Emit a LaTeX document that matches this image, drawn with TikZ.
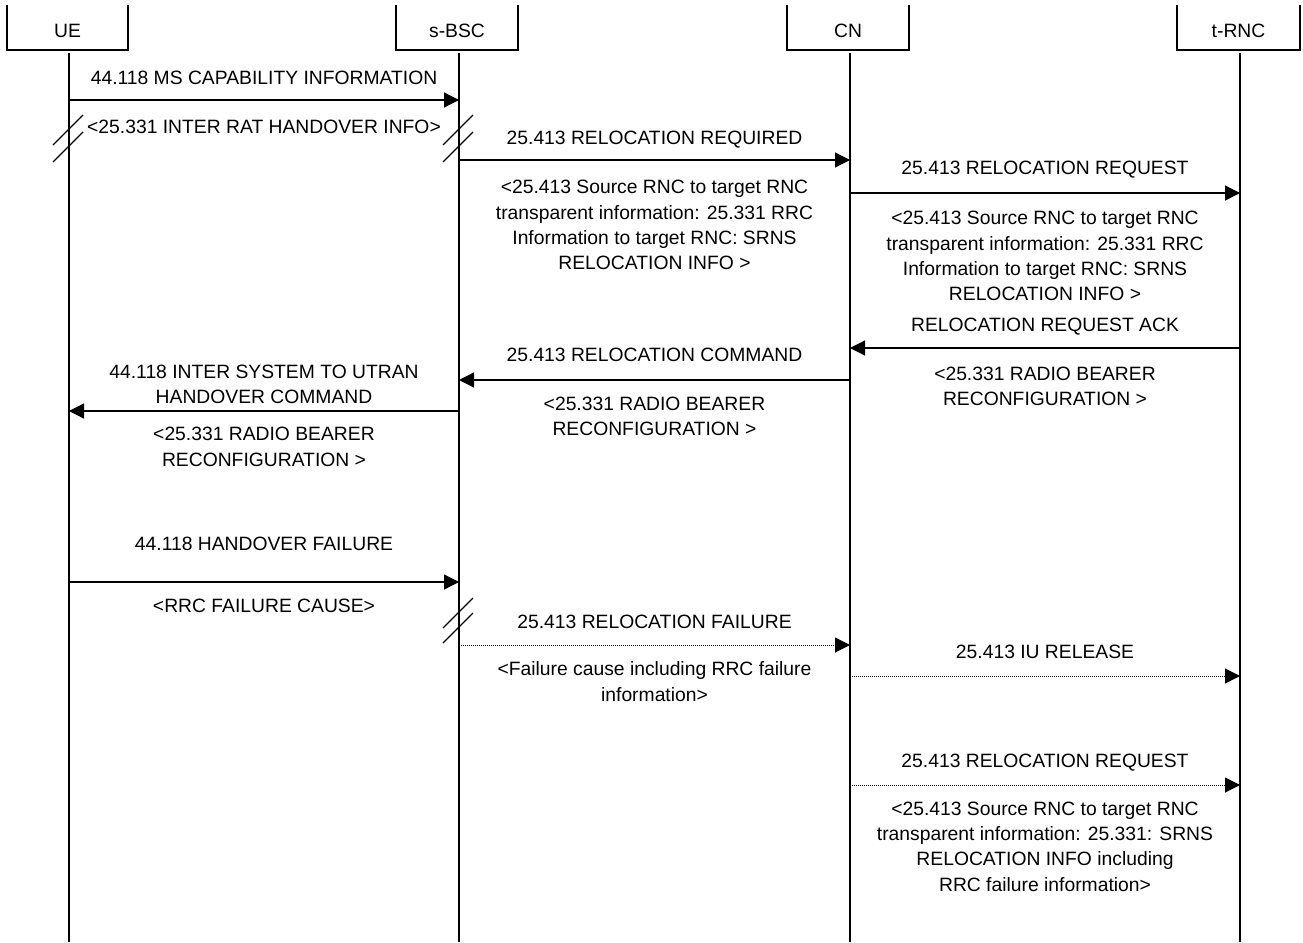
\documentclass[tikz,border=0pt]{standalone}
\usepackage{fontspec}
\setmainfont{Liberation Sans}
\usetikzlibrary{arrows.meta}
\begin{document}
\begin{tikzpicture}[x=1pt,y=-1pt,
  lifeline/.style={line width=1.3pt, black},
  boxline/.style={line width=1.2pt, black},
  msg/.style={line width=1.3pt, -{Triangle[length=15pt,width=15pt]}},
  dotmsg/.style={line width=1pt, dash pattern=on 1pt off 1pt, -{Triangle[length=15pt,width=15pt]}},
  lbl/.style={font=\fontsize{19.3}{25.4}\selectfont, align=center, anchor=north, inner sep=0pt},
  hdr/.style={font=\fontsize{19.3}{25.4}\selectfont, inner sep=0pt},
  brk/.style={line width=1.3pt}]
\useasboundingbox (0,0) rectangle (1303,942);

% header boxes
\draw[boxline] (7,5) -- (7,50) -- (128,50) -- (128,5);
\draw[boxline] (396,5) -- (396,50) -- (518,50) -- (518,5);
\draw[boxline] (787,5) -- (787,50) -- (909,50) -- (909,5);
\draw[boxline] (1177,5) -- (1177,50) -- (1300,50) -- (1300,5);
\node[hdr] (UE) at (67.5,31) {UE};
\node[hdr] (sBSC) at (457,31) {s-BSC};
\node[hdr] (CN) at (848,31) {CN};
\node[hdr] (tRNC) at (1238.5,31) {t-RNC};

% lifelines
\coordinate (ueT) at (69,53);   \coordinate (ueB) at (69,942);
\coordinate (bsT) at (459,53);  \coordinate (bsB) at (459,942);
\coordinate (cnT) at (850,53);  \coordinate (cnB) at (850,942);
\coordinate (rnT) at (1240,53); \coordinate (rnB) at (1240,942);
\draw[lifeline] (ueT) -- (ueB);
\draw[lifeline] (bsT) -- (bsB);
\draw[lifeline] (cnT) -- (cnB);
\draw[lifeline] (rnT) -- (rnB);

% message 1
\coordinate (m1a) at (69,100); \coordinate (m1b) at (459,100);
\draw[msg] (m1a) -- (m1b);
\node[lbl] (t1) at (264,70.5) {44.118 MS CAPABILITY INFORMATION};
\node[lbl] (t1b) at (264,119.5) {<25.331 INTER RAT HANDOVER INFO>};

% break marks
\draw[brk] (83,115) -- (53,145);
\draw[brk] (83,132) -- (53,162);
\draw[brk] (473,115) -- (443,145);
\draw[brk] (473,132) -- (443,162);

% message 2
\coordinate (m2a) at (459,160); \coordinate (m2b) at (850,160);
\draw[msg] (m2a) -- (m2b);
\node[lbl] (t2) at (654.5,130.5) {25.413 RELOCATION REQUIRED};
\node[lbl] (t2b) at (654.5,180) {<25.413 Source RNC to target RNC\\transparent information: 25.331 RRC\\Information to target RNC: SRNS\\RELOCATION INFO >};

% message 3
\coordinate (m3a) at (850,193); \coordinate (m3b) at (1240,193);
\draw[msg] (m3a) -- (m3b);
\node[lbl] (t3) at (1045,161) {25.413 RELOCATION REQUEST};
\node[lbl] (t3b) at (1045,211) {<25.413 Source RNC to target RNC\\transparent information: 25.331 RRC\\Information to target RNC: SRNS\\RELOCATION INFO >};

% message 4
\coordinate (m4a) at (1240,348); \coordinate (m4b) at (850,348);
\draw[msg] (m4a) -- (m4b);
\node[lbl] (t4) at (1045,318) {RELOCATION REQUEST ACK};
\node[lbl] (t4b) at (1045,366.5) {<25.331 RADIO BEARER\\RECONFIGURATION >};

% message 5
\coordinate (m5a) at (850,380); \coordinate (m5b) at (459,380);
\draw[msg] (m5a) -- (m5b);
\node[lbl] (t5) at (654.5,348) {25.413 RELOCATION COMMAND};
\node[lbl] (t5b) at (654.5,396.5) {<25.331 RADIO BEARER\\RECONFIGURATION >};

% message 6
\coordinate (m6a) at (459,411); \coordinate (m6b) at (69,411);
\draw[msg] (m6a) -- (m6b);
\node[lbl] (t6) at (264,364.5) {44.118 INTER SYSTEM TO UTRAN\\HANDOVER COMMAND};
\node[lbl] (t6b) at (264,427) {<25.331 RADIO BEARER\\RECONFIGURATION >};

% message 7
\coordinate (m7a) at (69,582); \coordinate (m7b) at (459,582);
\draw[msg] (m7a) -- (m7b);
\node[lbl] (t7) at (264,537) {44.118 HANDOVER FAILURE};
\node[lbl] (t7b) at (264,599) {<RRC FAILURE CAUSE>};

% break marks 2
\draw[brk] (473,598) -- (443,628);
\draw[brk] (473,613) -- (443,643);

% message 8
\coordinate (m8a) at (459,645); \coordinate (m8b) at (850,645);
\draw[dotmsg] (m8a) -- (m8b);
\node[lbl] (t8) at (654.5,614.5) {25.413 RELOCATION FAILURE};
\node[lbl] (t8b) at (654.5,661.5) {<Failure cause including RRC failure\\information>};

% message 9
\coordinate (m9a) at (850,676); \coordinate (m9b) at (1240,676);
\draw[dotmsg] (m9a) -- (m9b);
\node[lbl] (t9) at (1045,645) {25.413 IU RELEASE};

% message 10
\coordinate (m10a) at (850,785); \coordinate (m10b) at (1240,785);
\draw[dotmsg] (m10a) -- (m10b);
\node[lbl] (t10) at (1045,753.5) {25.413 RELOCATION REQUEST};
\node[lbl] (t10b) at (1045,801.5) {<25.413 Source RNC to target RNC\\transparent information: 25.331: SRNS\\RELOCATION INFO including\\RRC failure information>};
\end{tikzpicture}
\end{document}
